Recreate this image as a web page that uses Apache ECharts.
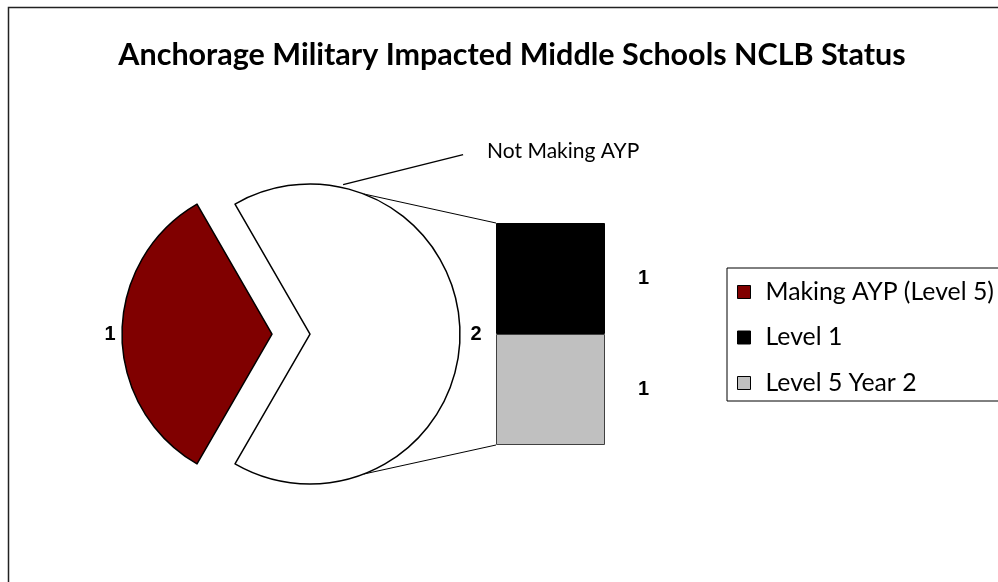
<!DOCTYPE html>
<html><head><meta charset="utf-8">
<script src="https://cdn.jsdelivr.net/npm/echarts@6/dist/echarts.min.js"></script>
<style>html,body{margin:0;padding:0;background:#fff}#c{width:998px;height:582px}</style>
</head><body><div id="c"></div>
<script>
// ---- data ----
const titleText = 'Anchorage Military Impacted Middle Schools NCLB Status';
const pieNames = ['Making AYP (Level 5)', 'Not Making AYP'];
const pieValues = [1, 2];
const pieColors = ['#800000', '#ffffff'];
const barNames = ['Level 5 Year 2', 'Level 1'];   // bottom -> top
const barValues = [1, 1];
const barColors = ['#c0c0c0', '#000000'];
const legendNames = ['Making AYP (Level 5)', 'Level 1', 'Level 5 Year 2'];

// ---- layout ----
const CX = 310, CY = 334, R = 150, OFF = 38;   // OFF: explosion of slice 0 (to the left)
const GRID = {left: 496, top: 223, width: 109, height: 222};
const FONT = 'Lato';
const TITLE_SIZE = 30.5, TITLE_CENTER = 512;
const NUM_SIZE = 20;

const meas = document.createElement('canvas').getContext('2d');
meas.font = 'bold ' + TITLE_SIZE + 'px ' + FONT;
const titleW = meas.measureText(titleText).width;

const chart = echarts.init(document.getElementById('c'), null, {renderer: 'canvas'});

const hidden = {color: 'rgba(0,0,0,0)', borderWidth: 0};

// one pie series per slice position: slice `k` drawn, others transparent
function pieSeries(k, center, labelX) {
  return {
    type: 'pie',
    name: 'pie' + k,
    center: center,
    radius: R,
    startAngle: 240,
    clockwise: true,
    silent: true,
    emphasis: {disabled: true},
    data: pieNames.map((n, i) => ({
      name: n, value: pieValues[i],
      itemStyle: i === k ? {color: pieColors[i], borderColor: '#000', borderWidth: 1.5} : hidden,
      label: {show: i === k}
    })),
    label: {position: 'outside', formatter: '{c}', fontFamily: 'Arial', fontWeight: 'bold', fontSize: NUM_SIZE, color: '#000'},
    labelLine: {show: false},
    labelLayout: function (p) {
      if (p.dataIndex !== k) return;
      return {x: labelX, y: center[1], align: 'center', verticalAlign: 'middle'};
    },
    z: 2
  };
}

const option = {
  animation: false,
  backgroundColor: '#fff',
  title: {
    text: titleText,
    left: TITLE_CENTER - titleW / 2,
    top: 39,
    padding: 0,
    textStyle: {fontFamily: FONT, fontWeight: 'bold', fontSize: TITLE_SIZE, color: '#000', lineHeight: 32}
  },
  legend: {
    data: legendNames,
    orient: 'vertical',
    left: 727, top: 268,
    padding: [10, 60, 4, 10],
    itemGap: 17.5,
    itemWidth: 13, itemHeight: 13,
    icon: 'rect',
    itemStyle: {borderColor: '#000', borderWidth: 1},
    textStyle: {fontFamily: FONT, fontSize: 24.8, color: '#000', lineHeight: 28, padding: [0, 0, 0, 10]},
    borderColor: '#000', borderWidth: 1, backgroundColor: '#fff',
    selectedMode: false
  },
  grid: {left: GRID.left, top: GRID.top, width: GRID.width, height: GRID.height},
  xAxis: {type: 'category', data: [''], show: false},
  yAxis: {type: 'value', min: 0, max: 2, show: false, splitLine: {show: false}},
  series: [
    pieSeries(0, [CX - OFF, CY], CX - OFF - R - 12),
    pieSeries(1, [CX, CY], CX + R + 16),
    {
      type: 'pie',
      name: 'names',
      center: [CX, CY],
      radius: R,
      startAngle: 240,
      silent: true,
      emphasis: {disabled: true},
      itemStyle: hidden,
      data: pieNames.map((n, i) => ({
        name: n, value: pieValues[i],
        label: {show: i === 1}, labelLine: {show: i === 1}
      })),
      label: {formatter: '{b}', fontFamily: FONT, fontSize: 21, color: '#000'},
      labelLine: {show: true, lineStyle: {color: '#000', width: 1.5}},
      labelLayout: function (p) {
        if (p.dataIndex !== 1) return;
        const a = 77.5 * Math.PI / 180;
        const sx = CX + (R + 3) * Math.cos(a), sy = CY - (R + 3) * Math.sin(a);
        const ex = sx + 120, ey = sy - 30;
        return {x: ex + 24, y: ey - 3, align: 'left', verticalAlign: 'middle',
          labelLinePoints: [[sx, sy], [ex, ey], [ex, ey]]};
      },
      z: 3
    }
  ].concat(barNames.map((n, i) => ({
    type: 'bar',
    name: n,
    stack: 'other',
    barWidth: '100%',
    data: [barValues[i]],
    emphasis: {disabled: true},
    itemStyle: {color: barColors[i], borderColor: i === 0 ? '#404040' : '#000', borderWidth: 1},
    label: {show: true, position: 'right', distance: 33, fontFamily: 'Arial', fontWeight: 'bold', fontSize: NUM_SIZE, color: '#000'}
  })))
};
chart.setOption(option);

// connector lines and outer frame
const topPt = chart.convertToPixel({xAxisIndex: 0, yAxisIndex: 0}, [0, barValues[0] + barValues[1]]);
const botPt = chart.convertToPixel({xAxisIndex: 0, yAxisIndex: 0}, [0, 0]);
const ang = 69 * Math.PI / 180;
chart.setOption({
  graphic: [
    {type: 'rect', shape: {x: 8.5, y: 7.5, width: 1400, height: 1400}, style: {fill: 'none', stroke: '#222', lineWidth: 1.5}, z: -10, silent: true},
    {type: 'line', shape: {x1: CX + R * Math.cos(ang), y1: CY - R * Math.sin(ang), x2: GRID.left, y2: topPt[1]}, style: {stroke: '#000', lineWidth: 1}, silent: true},
    {type: 'line', shape: {x1: CX + R * Math.cos(ang), y1: CY + R * Math.sin(ang), x2: GRID.left, y2: botPt[1]}, style: {stroke: '#000', lineWidth: 1}, silent: true}
  ]
});
</script>
</body></html>
